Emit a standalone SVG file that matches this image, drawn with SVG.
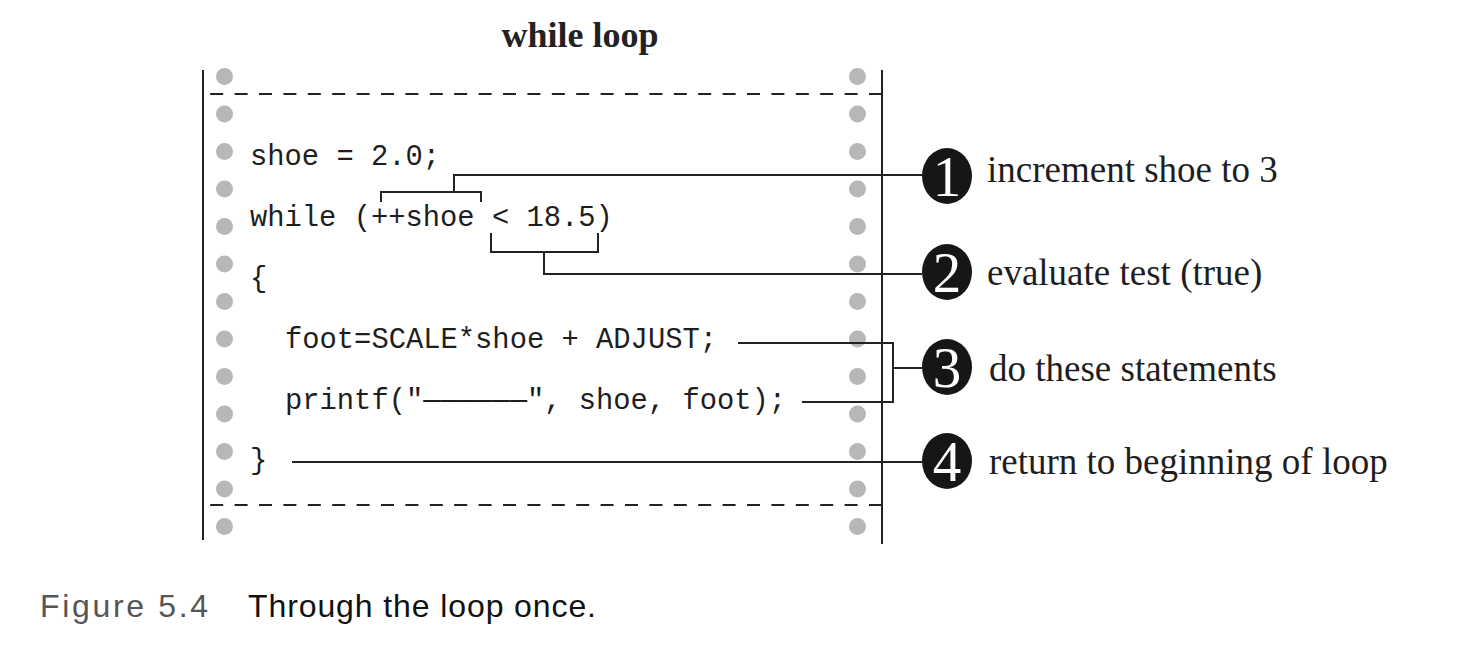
<svg xmlns="http://www.w3.org/2000/svg" width="1476" height="648" viewBox="0 0 1476 648">
<defs>
<style>
.frame{stroke:#222;stroke-width:2;fill:none}
.dash{stroke:#222;stroke-width:2;stroke-dasharray:13 11.4;fill:none}
.hole{fill:#b7b7b7}
.code{font-family:"Liberation Mono","Courier New",monospace;font-size:28.8px;fill:#1e1e1e}
.conn{stroke:#222;stroke-width:2;fill:none}
.badge{fill:#161616}
.num{font-family:"Liberation Serif","Times New Roman",serif;font-size:57px;fill:#fff;text-anchor:middle}
.lbl{font-family:"Liberation Serif","Times New Roman",serif;font-size:37px;fill:#1e1e1e}
.title{font-family:"Liberation Serif","Times New Roman",serif;font-size:36px;font-weight:bold;fill:#222;text-anchor:middle}
.cap{font-family:"Liberation Sans",Arial,sans-serif;font-size:32px}
</style>
</defs>
<rect width="1476" height="648" fill="#fff"/>
<g id="title"><text class="title" x="580" y="47">while loop</text></g>
<g id="paper">
<line class="frame" x1="203" y1="70" x2="203" y2="540"/>
<line class="frame" x1="882" y1="70" x2="882" y2="544"/>
<line class="dash" x1="882" y1="94" x2="210" y2="94"/>
<line class="dash" x1="882" y1="505" x2="210" y2="505"/>
<g id="holes-left">
<circle class="hole" cx="224.5" cy="76.5" r="8.5"/><circle class="hole" cx="224.5" cy="114" r="8.5"/><circle class="hole" cx="224.5" cy="151.5" r="8.5"/><circle class="hole" cx="224.5" cy="189" r="8.5"/><circle class="hole" cx="224.5" cy="226.5" r="8.5"/><circle class="hole" cx="224.5" cy="264" r="8.5"/><circle class="hole" cx="224.5" cy="301.5" r="8.5"/><circle class="hole" cx="224.5" cy="339" r="8.5"/><circle class="hole" cx="224.5" cy="376.5" r="8.5"/><circle class="hole" cx="224.5" cy="414" r="8.5"/><circle class="hole" cx="224.5" cy="451.5" r="8.5"/><circle class="hole" cx="224.5" cy="489" r="8.5"/><circle class="hole" cx="224.5" cy="526.5" r="8.5"/>
</g>
<g id="holes-right">
<circle class="hole" cx="857.5" cy="76.5" r="8.5"/><circle class="hole" cx="857.5" cy="114" r="8.5"/><circle class="hole" cx="857.5" cy="151.5" r="8.5"/><circle class="hole" cx="857.5" cy="189" r="8.5"/><circle class="hole" cx="857.5" cy="226.5" r="8.5"/><circle class="hole" cx="857.5" cy="264" r="8.5"/><circle class="hole" cx="857.5" cy="301.5" r="8.5"/><circle class="hole" cx="857.5" cy="339" r="8.5"/><circle class="hole" cx="857.5" cy="376.5" r="8.5"/><circle class="hole" cx="857.5" cy="414" r="8.5"/><circle class="hole" cx="857.5" cy="451.5" r="8.5"/><circle class="hole" cx="857.5" cy="489" r="8.5"/><circle class="hole" cx="857.5" cy="526.5" r="8.5"/>
</g>
</g>
<g id="code">
<text class="code" x="250" y="165">shoe = 2.0;</text>
<text class="code" x="250" y="226">while (++shoe &lt; 18.5)</text>
<text class="code" x="250" y="287">{</text>
<text class="code" x="285" y="348">foot=SCALE*shoe + ADJUST;</text>
<text class="code" x="285" y="409">printf("——————", shoe, foot);</text>
<text class="code" x="250" y="469">}</text>
</g>
<g id="connectors">
<path class="conn" d="M381,202 V192 H481 V202 M454,192 V175 H922"/>
<path class="conn" d="M491,233 V252 H598 V233 M544,252 V274 H922"/>
<path class="conn" d="M738,343 H893 V402 H802 M893,368 H922"/>
<path class="conn" d="M292,462 H922"/>
</g>
<g id="step-1"><ellipse class="badge" cx="947" cy="176" rx="25" ry="28"/><text class="num" x="947" y="196">1</text><text class="lbl" x="987" y="182">increment shoe to 3</text></g>
<g id="step-2"><ellipse class="badge" cx="947" cy="272" rx="25" ry="28"/><text class="num" x="947" y="292">2</text><text class="lbl" x="987" y="285">evaluate test (true)</text></g>
<g id="step-3"><ellipse class="badge" cx="947" cy="367" rx="25" ry="28"/><text class="num" x="947" y="387">3</text><text class="lbl" x="989" y="381">do these statements</text></g>
<g id="step-4"><ellipse class="badge" cx="947" cy="461" rx="25" ry="28"/><text class="num" x="947" y="481">4</text><text class="lbl" x="989" y="474">return to beginning of loop</text></g>
<g id="caption">
<text class="cap" x="40" y="617" fill="#555" textLength="168">Figure 5.4</text>
<text class="cap" x="248" y="617" fill="#111" textLength="348">Through the loop once.</text>
</g>
</svg>
